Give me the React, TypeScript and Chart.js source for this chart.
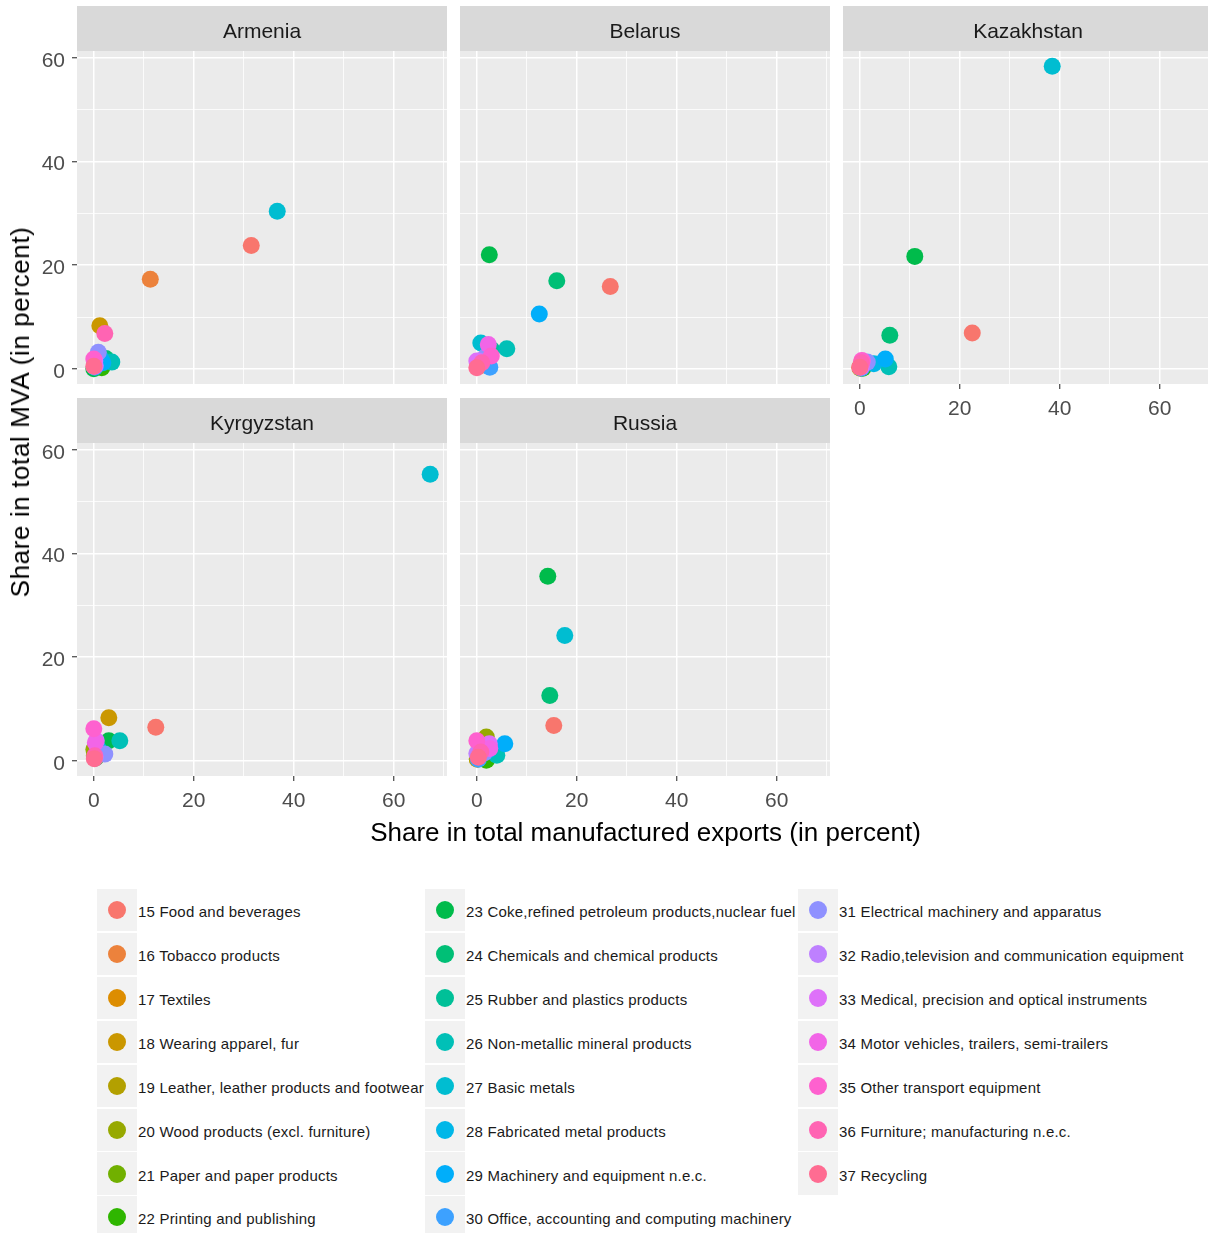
import React, { useEffect, useRef } from 'react';
import { Chart, registerables } from 'chart.js';

Chart.register(...registerables);

const FONT = "'Liberation Sans', Arial, Helvetica, sans-serif";

// ISIC Rev.3 manufacturing divisions (15..37)
const industries = [
  '15 Food and beverages',
  '16 Tobacco products',
  '17 Textiles',
  '18 Wearing apparel, fur',
  '19 Leather, leather products and footwear',
  '20 Wood products (excl. furniture)',
  '21 Paper and paper products',
  '22 Printing and publishing',
  '23 Coke,refined petroleum products,nuclear fuel',
  '24 Chemicals and chemical products',
  '25 Rubber and plastics products',
  '26 Non-metallic mineral products',
  '27 Basic metals',
  '28 Fabricated metal products',
  '29 Machinery and equipment n.e.c.',
  '30 Office, accounting and computing machinery',
  '31 Electrical machinery and apparatus',
  '32 Radio,television and communication equipment',
  '33 Medical, precision and optical instruments',
  '34 Motor vehicles, trailers, semi-trailers',
  '35 Other transport equipment',
  '36 Furniture; manufacturing n.e.c.',
  '37 Recycling',
];

const countries = ['Armenia', 'Belarus', 'Kazakhstan', 'Kyrgyzstan', 'Russia'];

// Share in total manufactured exports (percent), one value per industry
const armeniaExports = [31.5, 11.3, 0.3, 1.2, 0.5, 0.2, 0.4, 1.6, 0.0, 2.4, 2.0, 3.6, 36.7, 1.5, 1.8, 0.2, 0.9, 0.3, 0.2, 0.1, 0.0, 2.2, 0.0];
const belarusExports = [26.7, 0.3, 1.5, 1.2, 0.6, 2.0, 1.0, 0.3, 2.5, 16.0, 3.0, 6.0, 0.8, 2.3, 12.5, 2.6, 1.8, 0.4, 0.0, 2.3, 2.9, 1.0, 0.0];
const kazakhstanExports = [22.5, 0.0, 0.2, 0.1, 0.1, 0.1, 0.3, 0.6, 11.0, 6.0, 0.8, 5.8, 38.5, 2.8, 5.1, 0.3, 1.5, 0.2, 0.3, 0.5, 0.4, 0.3, 0.0];
const kyrgyzstanExports = [12.4, 0.2, 0.8, 3.0, 0.1, 0.0, 0.4, 0.3, 3.0, 1.5, 1.2, 5.2, 67.3, 0.8, 1.0, 0.2, 2.2, 0.3, 0.5, 0.3, 0.0, 0.2, 0.1];
const russiaExports = [15.4, 0.3, 0.2, 0.1, 0.1, 1.9, 1.2, 1.9, 14.2, 14.6, 1.6, 4.0, 17.6, 2.2, 5.6, 0.3, 1.5, 0.0, 2.5, 2.6, 0.0, 0.8, 0.3];

// Share in total manufacturing value added (percent), one value per industry
const armeniaMva = [23.8, 17.3, 0.5, 8.3, 0.8, 0.4, 0.9, 0.2, 0.0, 2.0, 1.5, 1.3, 30.4, 1.8, 1.2, 0.3, 3.2, 0.6, 1.5, 0.5, 1.9, 6.8, 0.5];
const belarusMva = [15.9, 0.8, 1.8, 1.6, 0.6, 2.2, 1.0, 1.2, 22.0, 17.0, 3.7, 3.9, 5.0, 3.0, 10.6, 0.3, 2.4, 1.5, 1.5, 4.7, 2.5, 1.2, 0.2];
const kazakhstanMva = [6.9, 0.3, 0.3, 0.2, 0.1, 0.3, 0.2, 0.1, 21.7, 6.5, 0.8, 0.4, 58.4, 1.0, 1.9, 0.1, 1.3, 0.3, 0.4, 1.5, 1.6, 1.2, 0.3];
const kyrgyzstanMva = [6.5, 0.5, 2.0, 8.3, 1.0, 2.2, 0.6, 1.0, 3.9, 1.5, 1.8, 3.9, 55.3, 2.5, 1.4, 0.5, 1.3, 0.8, 3.9, 3.5, 6.2, 1.0, 0.4];
const russiaMva = [6.8, 0.8, 0.5, 0.4, 0.3, 4.6, 1.6, 0.1, 35.6, 12.6, 1.8, 1.1, 24.2, 2.0, 3.3, 0.3, 1.5, 1.4, 3.3, 2.4, 3.9, 1.7, 0.7];

const exportsByCountry = [armeniaExports, belarusExports, kazakhstanExports, kyrgyzstanExports, russiaExports];
const mvaByCountry = [armeniaMva, belarusMva, kazakhstanMva, kyrgyzstanMva, russiaMva];

// Labelled (major) ticks on both axes; minor grid lines fall halfway between
const majorTicks = [0, 20, 40, 60];

// Shared (fixed) scales with a 5% expansion on each side of the data range
function expandedRange(groups: number[][]) {
  const all = groups.flat();
  const lo = Math.min(...all);
  const hi = Math.max(...all);
  const pad = (hi - lo) * 0.05;
  return { min: lo - pad, max: hi + pad };
}
const X_RANGE = expandedRange(exportsByCountry);
const Y_RANGE = expandedRange(mvaByCountry);

// Evenly spaced HCL hues (c = 100, l = 65), converted to sRGB
function hueColor(h: number, c = 100, l = 65): string {
  const hr = (h * Math.PI) / 180;
  const U = c * Math.cos(hr);
  const V = c * Math.sin(hr);
  const Xn = 95.047, Yn = 100.0, Zn = 108.883;
  const t = Xn + 15 * Yn + 3 * Zn;
  const un = (4 * Xn) / t;
  const vn = (9 * Yn) / t;
  const Y = Yn * (l > 7.999592 ? Math.pow((l + 16) / 116, 3) : l / 903.3);
  const u = U / (13 * l) + un;
  const v = V / (13 * l) + vn;
  const X = (9 * Y * u) / (4 * v);
  const Z = -X / 3 - 5 * Y + (3 * Y) / v;
  const x = X / 100, y = Y / 100, z = Z / 100;
  const lin = [
    3.240479 * x - 1.53715 * y - 0.498535 * z,
    -0.969256 * x + 1.875992 * y + 0.041556 * z,
    0.055648 * x - 0.204043 * y + 1.057311 * z,
  ];
  const hex = lin
    .map((ch) => {
      const g = ch > 0.00304 ? 1.055 * Math.pow(ch, 1 / 2.4) - 0.055 : 12.92 * ch;
      const n = Math.round(Math.min(1, Math.max(0, g)) * 255);
      return n.toString(16).padStart(2, '0');
    })
    .join('');
  return '#' + hex;
}
const palette = industries.map((_, i) => hueColor(15 + (360 / industries.length) * i));

// Facet geometry
const AXIS_W = 77;
const STRIP_H = 45;
const PLOT_W = 370;
const PLOT_H = 333;
const XAXIS_H = 45;
const COL_LEFT = [77, 460, 843];
const ROW_TOP = [6, 398];
const facetCells = [
  { row: 0, col: 0, yLabels: true, xLabels: false },
  { row: 0, col: 1, yLabels: false, xLabels: false },
  { row: 0, col: 2, yLabels: false, xLabels: true },
  { row: 1, col: 0, yLabels: true, xLabels: true },
  { row: 1, col: 1, yLabels: false, xLabels: true },
];

const facetPlugin = {
  id: 'facet',
  beforeDraw(chart: any, _args: any, opts: any) {
    const { ctx, chartArea: a } = chart;
    ctx.save();
    ctx.fillStyle = '#D9D9D9';
    ctx.fillRect(a.left, a.top - STRIP_H, a.right - a.left, STRIP_H);
    ctx.fillStyle = '#EBEBEB';
    ctx.fillRect(a.left, a.top, a.right - a.left, a.bottom - a.top);
    ctx.fillStyle = '#1A1A1A';
    ctx.font = `21px ${FONT}`;
    ctx.textAlign = 'center';
    ctx.textBaseline = 'alphabetic';
    ctx.fillText(opts.title, (a.left + a.right) / 2, a.top - STRIP_H + 32);
    ctx.restore();
  },
};

function makeScale(axis: 'x' | 'y', labelled: boolean, range: { min: number; max: number }) {
  const isMajor = (v: number) => majorTicks.includes(v);
  return {
    type: 'linear',
    position: axis === 'x' ? 'bottom' : 'left',
    min: range.min,
    max: range.max,
    afterFit: (s: any) => {
      if (axis === 'x') s.height = XAXIS_H;
      else s.width = AXIS_W;
      // keep every panel the same size regardless of its tick labels
      s.paddingLeft = 0;
      s.paddingRight = 0;
      s.paddingTop = 0;
      s.paddingBottom = 0;
    },
    border: { display: false },
    grid: {
      color: '#FFFFFF',
      lineWidth: (c: any) => (c.tick && isMajor(c.tick.value) ? 1.5 : 0.8),
      drawTicks: true,
      tickLength: 5,
      tickWidth: 1.1,
      tickColor: (c: any) => (labelled && c.tick && isMajor(c.tick.value) ? '#333333' : 'rgba(0,0,0,0)'),
    },
    ticks: {
      display: labelled,
      stepSize: 10,
      includeBounds: false,
      autoSkip: false,
      maxRotation: 0,
      padding: axis === 'x' ? 8 : 7,
      labelOffset: axis === 'y' ? 3 : 0,
      color: '#4D4D4D',
      font: { family: FONT, size: 21 },
      callback: (v: any) => (isMajor(Number(v)) ? String(v) : ''),
    },
  };
}

function FacetPanel({ index }: { index: number }) {
  const ref = useRef<HTMLCanvasElement>(null);
  const cell = facetCells[index];
  const width = AXIS_W + PLOT_W;
  const height = STRIP_H + PLOT_H + XAXIS_H;

  useEffect(() => {
    const canvas = ref.current;
    if (!canvas) return;
    const xs = exportsByCountry[index];
    const ys = mvaByCountry[index];
    const chart = new Chart(canvas, {
      type: 'scatter',
      data: {
        datasets: [
          {
            data: xs.map((x, i) => ({ x, y: ys[i] })),
            pointBackgroundColor: palette,
            pointBorderWidth: 0,
            pointRadius: 8.5,
            pointHoverRadius: 8.5,
          },
        ],
      },
      options: {
        responsive: false,
        animation: false,
        events: [],
        layout: { autoPadding: false, padding: { top: STRIP_H, left: 0, right: 0, bottom: 0 } },
        plugins: {
          legend: { display: false },
          tooltip: { enabled: false },
          facet: { title: countries[index] },
        } as any,
        scales: {
          x: makeScale('x', cell.xLabels, X_RANGE),
          y: makeScale('y', cell.yLabels, Y_RANGE),
        } as any,
      },
      plugins: [facetPlugin],
    });
    return () => chart.destroy();
  }, [index]);

  return (
    <canvas
      ref={ref}
      width={width}
      height={height}
      style={{
        position: 'absolute',
        left: COL_LEFT[cell.col] - AXIS_W,
        top: ROW_TOP[cell.row],
        width,
        height,
      }}
    />
  );
}

// Legend layout: three columns of keys
const LEGEND_COL_LEFT = [97, 425, 798];
const LEGEND_TOP = 889;
const LEGEND_PITCH = 43.9;
const LEGEND_ROWS = 8;
const KEY_W = 40;
const KEY_H = 42.4;

function Legend() {
  return (
    <>
      {industries.map((name, i) => {
        const col = Math.floor(i / LEGEND_ROWS);
        const row = i % LEGEND_ROWS;
        const left = LEGEND_COL_LEFT[col];
        const top = LEGEND_TOP + row * LEGEND_PITCH;
        return (
          <React.Fragment key={name}>
            <div
              style={{
                position: 'absolute',
                left,
                top,
                width: KEY_W,
                height: KEY_H,
                background: '#F2F2F2',
              }}
            >
              <div
                style={{
                  position: 'absolute',
                  left: KEY_W / 2 - 9,
                  top: KEY_H / 2 - 9,
                  width: 18,
                  height: 18,
                  borderRadius: '50%',
                  background: palette[i],
                }}
              />
            </div>
            <div
              style={{
                position: 'absolute',
                left: left + KEY_W + 1,
                top: top + 1.5,
                height: KEY_H,
                display: 'flex',
                alignItems: 'center',
                fontSize: 15,
                letterSpacing: '0.2px',
                color: '#1A1A1A',
                whiteSpace: 'nowrap',
              }}
            >
              {name}
            </div>
          </React.Fragment>
        );
      })}
    </>
  );
}

export default function App() {
  return (
    <div
      style={{
        position: 'fixed',
        left: 0,
        top: 0,
        width: 1208,
        height: 1233,
        overflow: 'hidden',
        background: '#FFFFFF',
        fontFamily: FONT,
      }}
    >
      {countries.map((c, i) => (
        <FacetPanel key={c} index={i} />
      ))}
      <div
        style={{
          position: 'absolute',
          left: 20,
          top: 412,
          transform: 'translate(-50%, -50%) rotate(-90deg)',
          fontSize: 26,
          lineHeight: '30px',
          letterSpacing: '0.6px',
          whiteSpace: 'nowrap',
          color: '#000000',
        }}
      >
        Share in total MVA (in percent)
      </div>
      <div
        style={{
          position: 'absolute',
          left: 645.5,
          top: 817,
          transform: 'translateX(-50%)',
          fontSize: 26,
          lineHeight: '30px',
          whiteSpace: 'nowrap',
          color: '#000000',
        }}
      >
        Share in total manufactured exports (in percent)
      </div>
      <Legend />
    </div>
  );
}
